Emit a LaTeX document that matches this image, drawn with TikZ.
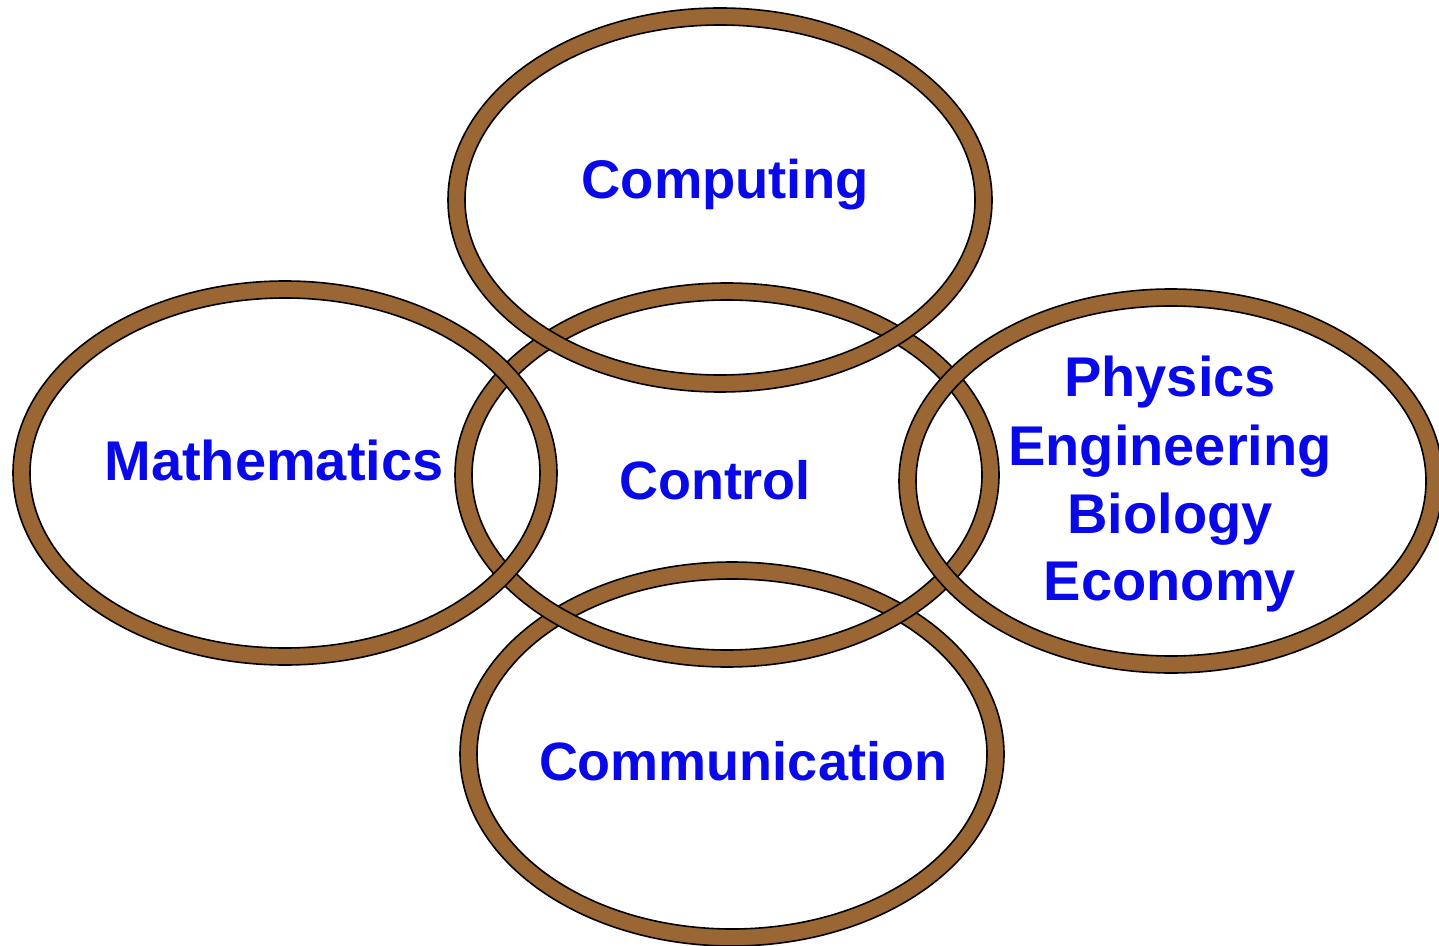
\documentclass[tikz,border=0pt]{standalone}
\usepackage{fontspec}
\setmainfont{Liberation Sans}
\definecolor{ringbrown}{RGB}{154,102,52}
\definecolor{txtblue}{RGB}{8,8,232}
\tikzset{
  ring/.style={draw=black, line width=0.8pt, fill=ringbrown, even odd rule},
  lbl/.style={text=txtblue, font=\bfseries, anchor=base, inner sep=0pt},
}
\newcommand{\myring}[1]{\path[ring] (#1) ellipse [x radius=136pt, y radius=96pt] (#1) ellipse [x radius=127.5pt, y radius=87.5pt];}
\begin{document}
\begin{tikzpicture}[x=0.5pt, y=-0.5pt]
\useasboundingbox (0,0) rectangle (1439,946);
\coordinate (ccomp) at (720,200);
\coordinate (cctrl) at (727,475);
\coordinate (cmath) at (285,473);
\coordinate (cphys) at (1171,481);
\coordinate (ccomm) at (732,754);
\myring{ccomm}
\myring{cctrl}
\myring{cmath}
\myring{ccomp}
\myring{cphys}
\node[lbl, font=\bfseries\fontsize{27.2}{33}\selectfont] (tcomp) at (725,199) {Computing};
\node[lbl, font=\bfseries\fontsize{28}{34}\selectfont] (tmath) at (274,480) {Mathematics};
\node[lbl, font=\bfseries\fontsize{27}{32}\selectfont] (tctrl) at (715,499) {Control};
\node[lbl, font=\bfseries\fontsize{27}{32}\selectfont] (tcomm) at (743,780) {Communication};
\node[lbl, font=\bfseries\fontsize{28}{34}\selectfont] (tphys) at (1170,396) {Physics};
\node[lbl, font=\bfseries\fontsize{28}{34}\selectfont] (teng) at (1170,465) {Engineering};
\node[lbl, font=\bfseries\fontsize{28}{34}\selectfont] (tbio) at (1170,533) {Biology};
\node[lbl, font=\bfseries\fontsize{28}{34}\selectfont] (teco) at (1170,600) {Economy};
\end{tikzpicture}
\end{document}
